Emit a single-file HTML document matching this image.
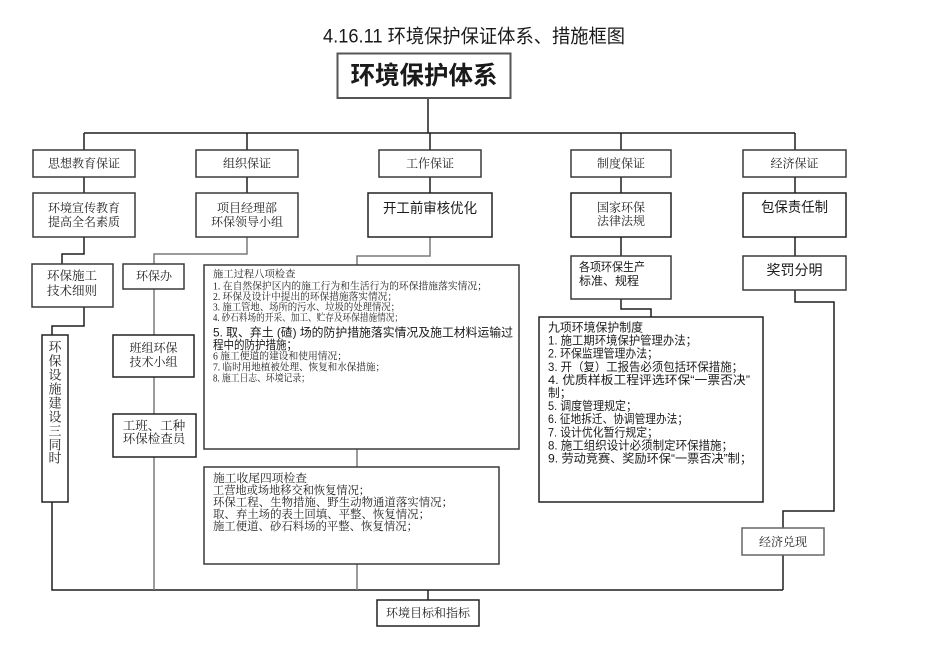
<!DOCTYPE html>
<html>
<head>
<meta charset="utf-8">
<style>
html,body{margin:0;padding:0;background:#fff;}
svg{display:block;}
.s{font-family:"Liberation Serif","Noto Serif CJK SC",serif;fill:#222;}
.h{font-family:"Liberation Sans","Noto Sans CJK SC",sans-serif;fill:#1a1a1a;}
</style>
</head>
<body>
<svg width="950" height="672" viewBox="0 0 950 672" xmlns="http://www.w3.org/2000/svg">
<rect width="950" height="672" fill="#fff"/>

<!-- connectors -->
<g fill="none" stroke="#1f1f1f" stroke-width="1.5">
  <path d="M428 98 V133"/>
  <path d="M84 133 H795"/>
  <path d="M84 133 V150 M247 133 V150 M430 133 V150 M621 133 V150 M795 133 V150"/>
  <path d="M84 177 V193 M247 177 V193 M430 177 V193 M621 177 V193 M795 177 V193"/>
  <path d="M84 237 V254 H62 V264"/>
  <path d="M84 307 V326 H52 V335"/>
  <path d="M52 502 V590 H783"/>
  <path d="M621 237 V256"/>
  <path d="M621 299 V309 H651 V317"/>
  <path d="M795 237 V256"/>
  <path d="M795 290 V302 H834 V511 H783 V528"/>
  <path d="M783 555 V590"/>
  <path d="M428 590 V600"/>
</g>
<g fill="none" stroke="#7a7a7a" stroke-width="1.5">
  <path d="M247 237 V254 H154 V264"/>
  <path d="M430 237 V256 H357 V265"/>
  <path d="M154 289 V335 M154 377 V414 M154 457 V590"/>
  <path d="M357 449 V467 M357 564 V590"/>
</g>

<!-- boxes -->
<g fill="#fff" stroke="#3a3a3a" stroke-width="1.5">
  <rect x="337.5" y="53.5" width="173" height="44.5" stroke="#555" stroke-width="2"/>
  <rect x="33" y="150" width="102" height="27"/>
  <rect x="196" y="150" width="102" height="27"/>
  <rect x="379" y="150" width="102" height="27"/>
  <rect x="571" y="150" width="100" height="27"/>
  <rect x="743" y="150" width="103" height="27"/>

  <rect x="33" y="193" width="102" height="44"/>
  <rect x="196" y="193" width="102" height="44"/>
  <rect x="368" y="193" width="124" height="44" stroke="#222"/>
  <rect x="571" y="193" width="100" height="44" stroke="#222"/>
  <rect x="743" y="193" width="103" height="44" stroke="#222"/>

  <rect x="32" y="264" width="81" height="43"/>
  <rect x="123" y="264" width="61" height="25"/>
  <rect x="204" y="265" width="315" height="184"/>
  <rect x="571" y="256" width="100" height="43"/>
  <rect x="743" y="256" width="103" height="34"/>

  <rect x="42" y="335" width="26" height="167" stroke="#222"/>
  <rect x="113" y="335" width="81" height="42" stroke="#222"/>
  <rect x="113" y="414" width="83" height="43" stroke="#222"/>
  <rect x="204" y="467" width="295" height="97"/>
  <rect x="539" y="317" width="224" height="185" stroke="#222"/>
  <rect x="742" y="528" width="82" height="27" stroke="#666"/>
  <rect x="377" y="600" width="102" height="26" stroke="#222"/>
</g>

<!-- title -->
<text class="h" x="323" y="37" dominant-baseline="central" font-size="19" textLength="302" lengthAdjust="spacingAndGlyphs">4.16.11 环境保护保证体系、措施框图</text>
<text class="h" x="424" y="76" dominant-baseline="central" text-anchor="middle" font-size="25" font-weight="bold" textLength="147" lengthAdjust="spacingAndGlyphs" fill="#000">环境保护体系</text>

<!-- category labels -->
<g class="s" font-size="12" text-anchor="middle" dominant-baseline="central">
  <text x="84" y="163.5">思想教育保证</text>
  <text x="247" y="163.5">组织保证</text>
  <text x="430" y="163.5">工作保证</text>
  <text x="621" y="163.5">制度保证</text>
  <text x="794.5" y="163.5">经济保证</text>

  <text x="84" y="208">环境宣传教育</text>
  <text x="84" y="222">提高全名素质</text>
  <text x="247" y="208">项目经理部</text>
  <text x="247" y="222">环保领导小组</text>
  <text x="621" y="207.5">国家环保</text>
  <text x="621" y="221">法律法规</text>

  <text x="72" y="276" font-size="12.5">环保施工</text>
  <text x="72" y="291" font-size="12.5">技术细则</text>
  <text x="154" y="276">环保办</text>

  <text x="153.5" y="348">班组环保</text>
  <text x="153.5" y="362">技术小组</text>
  <text x="154" y="426" font-size="12.5">工班、工种</text>
  <text x="154" y="439" font-size="12.5">环保检查员</text>

  <text x="783" y="542">经济兑现</text>
  <text x="428" y="613">环境目标和指标</text>
</g>

<!-- vertical label -->
<g class="s" font-size="13" text-anchor="middle" dominant-baseline="central">
  <text x="55" y="347">环</text>
  <text x="55" y="361">保</text>
  <text x="55" y="375">设</text>
  <text x="55" y="389">施</text>
  <text x="55" y="403">建</text>
  <text x="55" y="417">设</text>
  <text x="55" y="431">三</text>
  <text x="55" y="445">同</text>
  <text x="55" y="458">时</text>
</g>

<!-- sans larger labels -->
<g class="h" text-anchor="middle" dominant-baseline="central" fill="#222">
  <text x="430" y="208" font-size="14" textLength="94" lengthAdjust="spacingAndGlyphs">开工前审核优化</text>
  <text x="794.5" y="207" font-size="14" textLength="67" lengthAdjust="spacingAndGlyphs">包保责任制</text>
  <text x="794.5" y="270" font-size="14" textLength="56" lengthAdjust="spacingAndGlyphs">奖罚分明</text>
</g>
<g class="h" font-size="12" dominant-baseline="central" fill="#222">
  <text x="579" y="267" textLength="66" lengthAdjust="spacingAndGlyphs">各项环保生产</text>
  <text x="579" y="281">标准、规程</text>
</g>

<!-- 八项检查 -->
<g class="s" font-size="10.3" dominant-baseline="central">
  <text x="213" y="275">施工过程八项检查</text>
  <text x="213" y="287" textLength="274" lengthAdjust="spacingAndGlyphs">1. 在自然保护区内的施工行为和生活行为的环保措施落实情况；</text>
  <text x="213" y="297.5" textLength="184" lengthAdjust="spacingAndGlyphs">2. 环保及设计中提出的环保措施落实情况；</text>
  <text x="213" y="308" textLength="187" lengthAdjust="spacingAndGlyphs">3. 施工管地、场所的污水、垃圾的处理情况；</text>
  <text x="213" y="318.5" textLength="190" lengthAdjust="spacingAndGlyphs">4. 砂石料场的开采、加工、贮存及环保措施情况；</text>
  <text x="213" y="332.5" font-size="12" class="h" textLength="300" lengthAdjust="spacingAndGlyphs">5. 取、弃土 (碴) 场的防护措施落实情况及施工材料运输过</text>
  <text x="213" y="345" font-size="12" class="h" textLength="84" lengthAdjust="spacingAndGlyphs">程中的防护措施；</text>
  <text x="213" y="357" textLength="134" lengthAdjust="spacingAndGlyphs">6 施工便道的建设和使用情况；</text>
  <text x="213" y="368" textLength="172" lengthAdjust="spacingAndGlyphs">7. 临时用地植被处理、恢复和水保措施；</text>
  <text x="213" y="379" textLength="97" lengthAdjust="spacingAndGlyphs">8. 施工日志、环境记录；</text>
</g>

<!-- 收尾四项检查 -->
<g class="s" font-size="11.5" dominant-baseline="central">
  <text x="213" y="479" textLength="94" lengthAdjust="spacingAndGlyphs">施工收尾四项检查</text>
  <text x="213" y="491" textLength="157" lengthAdjust="spacingAndGlyphs">工营地或场地移交和恢复情况；</text>
  <text x="213" y="503" textLength="240" lengthAdjust="spacingAndGlyphs">环保工程、生物措施、野生动物通道落实情况；</text>
  <text x="213" y="515" textLength="217" lengthAdjust="spacingAndGlyphs">取、弃土场的表土回填、平整、恢复情况；</text>
  <text x="213" y="527" textLength="205" lengthAdjust="spacingAndGlyphs">施工便道、砂石料场的平整、恢复情况；</text>
</g>

<!-- 九项制度 -->
<g class="h" font-size="11.7" dominant-baseline="central" fill="#222">
  <text x="548" y="328" textLength="95" lengthAdjust="spacingAndGlyphs">九项环境保护制度</text>
  <text x="548" y="341.1" textLength="149" lengthAdjust="spacingAndGlyphs">1. 施工期环境保护管理办法；</text>
  <text x="548" y="354.2" textLength="110" lengthAdjust="spacingAndGlyphs">2. 环保监理管理办法；</text>
  <text x="548" y="367.3" textLength="195" lengthAdjust="spacingAndGlyphs">3. 开（复）工报告必须包括环保措施；</text>
  <text x="548" y="380.4" textLength="202" lengthAdjust="spacingAndGlyphs">4. 优质样板工程评选环保“一票否决”</text>
  <text x="548" y="393.5">制；</text>
  <text x="548" y="406.6" textLength="89" lengthAdjust="spacingAndGlyphs">5. 调度管理规定；</text>
  <text x="548" y="419.7" textLength="140" lengthAdjust="spacingAndGlyphs">6. 征地拆迁、协调管理办法；</text>
  <text x="548" y="432.8" textLength="110" lengthAdjust="spacingAndGlyphs">7. 设计优化暂行规定；</text>
  <text x="548" y="445.9" textLength="185" lengthAdjust="spacingAndGlyphs">8. 施工组织设计必须制定环保措施；</text>
  <text x="548" y="459" textLength="204" lengthAdjust="spacingAndGlyphs">9. 劳动竞赛、奖励环保“一票否决”制；</text>
</g>
</svg>
</body>
</html>
